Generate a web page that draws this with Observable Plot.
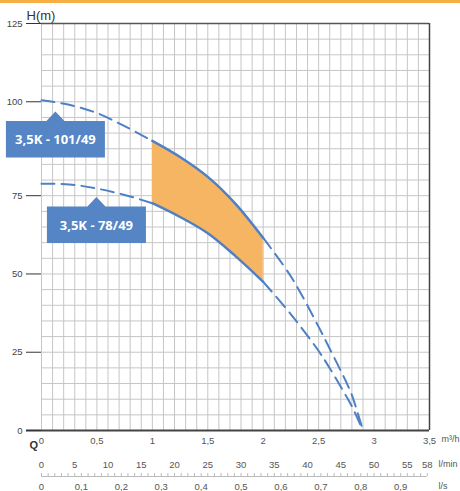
<!DOCTYPE html>
<html><head><meta charset="utf-8">
<script src="https://cdn.jsdelivr.net/npm/d3@7"></script>
<script src="https://cdn.jsdelivr.net/npm/@observablehq/plot@0.6"></script>
<style>
html,body{margin:0;padding:0;background:#fff;}
#wrap{position:relative;width:460px;height:491px;overflow:hidden;}
#bar{position:absolute;left:0;top:0;width:460px;height:3px;background:#f6ae45;z-index:2;}
#wrap svg{position:absolute;left:0;top:0;}
</style></head><body><div id="wrap"><div id="bar"></div></div>
<script>
// Flow (m³/h) and head (m)
const flowQ   = [0, 0.25, 0.5, 0.75, 1, 1.25, 1.5, 1.75, 2, 2.25, 2.5, 2.6, 2.75, 2.8, 2.9];
const head101 = [100.5, 99.2, 97, 93.5, 89.6, 85.3, 80, 72.4, 61.5, 49.2, 33.1, 26.1, 15.4, 11.3, 0];
const head78  = [78.2, 78, 76.9, 75.2, 72.6, 68.2, 63, 55.7, 47.5, 37.1, 25.4, 19.9, 10.9, 7.7, 0];

// Operating range (solid part / shaded band)
const rangeMin = 1, rangeMax = 2;

// Callout labels (pointer tip position)
const labelNames = ["3,5K - 101/49", "3,5K - 78/49"];
const labelQ = [0.13, 0.5];
const labelH = [97.3, 74.4];

// Axes
const yTicks = [0, 25, 50, 75, 100, 125];
const qTicks = [0, 0.5, 1, 1.5, 2, 2.5, 3, 3.5];
const lminTicks = [0, 5, 10, 15, 20, 25, 30, 35, 40, 45, 50, 55, 58];
const lsTicks = [0, 0.1, 0.2, 0.3, 0.4, 0.5, 0.6, 0.7, 0.8, 0.9];
const lminMinor = d3.range(0, 59);
const gridQ = d3.range(0, 36).map(i => i / 10);

// The reference's head axis is piecewise: 75→100 m spans six 5-unit grid cells.
const gridUnits = h => h <= 75 ? h : h <= 100 ? 75 + (h - 75) * 1.2 : h + 5;
const gridLines = d3.range(0, 135, 5);
const yTickPos = yTicks.map(gridUnits);

const LMIN = 0.06, LS = 3.6;
const comma = d => String(d).replace(".", ",");

const rows = flowQ.map((q, i) => ({q, h101: head101[i], h78: head78[i]}));
const pre = rows.filter(d => d.q <= rangeMin);
const mid = rows.filter(d => d.q >= rangeMin && d.q <= rangeMax);
const post = rows.filter(d => d.q >= rangeMax);
const Y101 = d => gridUnits(d.h101), Y78 = d => gridUnits(d.h78);

const blue = "#4f80c4";
const ns = "http://www.w3.org/2000/svg";
const callouts = (index, scales) => {
  const g = document.createElementNS(ns, "g");
  labelNames.forEach((name, i) => {
    const cx = scales.x(labelQ[i]), cy = scales.y(gridUnits(labelH[i]));
    const w = 99, h = 36.5, p = 9.5, hb = 9;
    const path = document.createElementNS(ns, "path");
    path.setAttribute("d", `M${cx},${cy}L${cx + hb},${cy + p}H${cx + w / 2}V${cy + p + h}H${cx - w / 2}V${cy + p}H${cx - hb}Z`);
    path.setAttribute("fill", "#5585c5");
    g.appendChild(path);
    const t = document.createElementNS(ns, "text");
    t.setAttribute("x", cx);
    t.setAttribute("y", cy + p + h / 2);
    t.setAttribute("text-anchor", "middle");
    t.setAttribute("dy", "0.36em");
    t.setAttribute("fill", "#fff");
    t.setAttribute("font-family", "'Open Sans', sans-serif");
    t.setAttribute("font-weight", "bold");
    t.setAttribute("font-size", "13");
    t.textContent = name;
    g.appendChild(t);
  });
  return g;
};

const txt = {fill: "#555", fontSize: 9.5, lineAnchor: "middle"};
const dash = {stroke: blue, strokeWidth: 2, strokeDasharray: "13 7", curve: "catmull-rom"};
const solid = {stroke: blue, strokeWidth: 2.5, curve: "catmull-rom"};

const chart = Plot.plot({
  width: 460, height: 491,
  marginLeft: 41, marginRight: 31, marginTop: 23, marginBottom: 61,
  x: {domain: [0, 3.5]},
  y: {domain: [0, 130]},
  style: {fontFamily: "'Liberation Sans', Arial, sans-serif", fontSize: "9.5px", color: "#444", background: "transparent"},
  marks: [
    Plot.ruleX(gridQ, {stroke: "#c6c6c6", strokeWidth: 1}),
    Plot.ruleY(gridLines, {stroke: "#c6c6c6", strokeWidth: 1}),
    Plot.areaY(mid, {x: "q", y1: Y78, y2: Y101, fill: "#f6b563", curve: "catmull-rom"}),
    Plot.line(pre, {x: "q", y: Y101, ...dash}),
    Plot.line(pre, {x: "q", y: Y78, ...dash}),
    Plot.line(post, {x: "q", y: Y101, ...dash}),
    Plot.line(post, {x: "q", y: Y78, ...dash}),
    Plot.line(mid, {x: "q", y: Y101, ...solid}),
    Plot.line(mid, {x: "q", y: Y78, ...solid}),
    Plot.ruleY([130], {stroke: "#555", strokeWidth: 1.5}),
    Plot.ruleX([3.5], {stroke: "#444", strokeWidth: 1.5}),
    Plot.ruleY([0], {stroke: "#444", strokeWidth: 2}),
    Plot.axisY(yTickPos, {tickSize: 15, tickPadding: 4, stroke: "#333", fill: "#444", fontSize: 9.5, label: null,
      tickFormat: d => String(yTicks[yTickPos.indexOf(d)])}),
    Plot.axisY([0], {tickSize: 15, strokeWidth: 2, stroke: "#333", label: null, tickFormat: () => ""}),
    Plot.text(qTicks, {...txt, x: d => d, text: d => comma(d), frameAnchor: "bottom", dy: 10}),
    Plot.text(lminTicks, {...txt, x: d => d * LMIN, text: d => comma(d), frameAnchor: "bottom", dy: 34}),
    Plot.text(lsTicks, {...txt, x: d => d * LS, text: d => comma(d), frameAnchor: "bottom", dy: 56}),
    Plot.axisX(lminMinor.map(d => d * LMIN), {tickSize: 3, dy: 43, stroke: "#bbb", label: null, tickFormat: () => ""}),
    Plot.ruleY([0], {x1: 0, x2: 58 * LMIN, dy: 46, stroke: "#bbb", strokeWidth: 1}),
    Plot.text(["m³/h"], {...txt, frameAnchor: "bottom-right", dx: 12, dy: 9, textAnchor: "start", fontSize: 9}),
    Plot.text(["l/min"], {...txt, frameAnchor: "bottom-right", dx: 9, dy: 34, textAnchor: "start", fontSize: 9}),
    Plot.text(["l/s"], {...txt, frameAnchor: "bottom-right", dx: 9, dy: 56, textAnchor: "start", fontSize: 9}),
    Plot.text(["Q"], {frameAnchor: "bottom-left", dx: -12, dy: 15, fill: "#333", fontWeight: "bold", fontSize: 11, lineAnchor: "middle"}),
    Plot.text(["H(m)"], {frameAnchor: "top-left", dx: -15, dy: -8, textAnchor: "start", fill: "#333", fontSize: 13, lineAnchor: "middle"}),
    callouts
  ]
});
document.getElementById("wrap").appendChild(chart);
</script>
</body></html>
